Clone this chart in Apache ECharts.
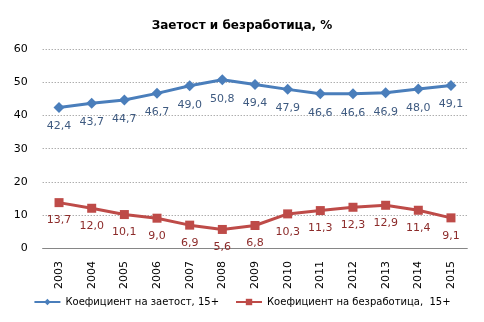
<!DOCTYPE html>
<html><head><meta charset="utf-8">
<script src="https://cdn.jsdelivr.net/npm/echarts@6/dist/echarts.min.js"></script>
<style>html,body{margin:0;padding:0;background:#fff}#c{width:484px;height:322px}</style>
</head><body><div id="c"></div>
<script>
const years = ['2003','2004','2005','2006','2007','2008','2009','2010','2011','2012','2013','2014','2015'];
const employment = [42.4,43.7,44.7,46.7,49.0,50.8,49.4,47.9,46.6,46.6,46.9,48.0,49.1];
const unemployment = [13.7,12.0,10.1,9.0,6.9,5.6,6.8,10.3,11.3,12.3,12.9,11.4,9.1];
const seriesNames = ['Коефициент на заетост, 15+','Коефициент на безработица,  15+'];
const yTicks = [0,10,20,30,40,50,60];

const chart = echarts.init(document.getElementById('c'), null, {renderer:'canvas'});
const fmt = p => p.value.toFixed(1).replace('.', ',');
chart.setOption({
  animation:false,
  title:{text:'Заетост и безработица, %', left:'center', top:15,
    textStyle:{fontFamily:'DejaVu Sans', fontSize:12, fontWeight:'bold', color:'#000'}},
  grid:{left:42.7, right:16.7, top:49.3, bottom:74},
  legend:{bottom:10, left:'center', itemWidth:26, itemHeight:8, itemGap:16,
    textStyle:{fontFamily:'DejaVu Sans', fontSize:10, color:'#000'},
    data:seriesNames},
  xAxis:{type:'category', data:years, boundaryGap:true,
    axisLine:{lineStyle:{color:'#868686'}}, axisTick:{show:false},
    axisLabel:{rotate:90, color:'#000', fontFamily:'DejaVu Sans', fontSize:11, margin:13}},
  yAxis:{type:'value', min:yTicks[0], max:yTicks[yTicks.length-1], interval:10,
    axisLine:{show:false}, axisTick:{show:false},
    axisLabel:{color:'#000', fontFamily:'DejaVu Sans', fontSize:11, margin:15},
    splitLine:{lineStyle:{color:'#8a8a8a', type:[1,2]}}},
  series:[
    {name:seriesNames[0], type:'line', data:employment, symbol:'diamond', symbolSize:11,
      lineStyle:{color:'#4A7EBB', width:3}, itemStyle:{color:'#4A7EBB'},
      label:{show:true, position:'bottom', distance:8, formatter:fmt, color:'#3E5A80',
        fontFamily:'DejaVu Sans', fontSize:11}},
    {name:seriesNames[1], type:'line', data:unemployment, symbol:'rect', symbolSize:9,
      lineStyle:{color:'#BE4B48', width:3}, itemStyle:{color:'#BE4B48'},
      label:{show:true, position:'bottom', distance:8, formatter:fmt, color:'#8C2B2A',
        fontFamily:'DejaVu Sans', fontSize:11}}
  ]
});
</script></body></html>
